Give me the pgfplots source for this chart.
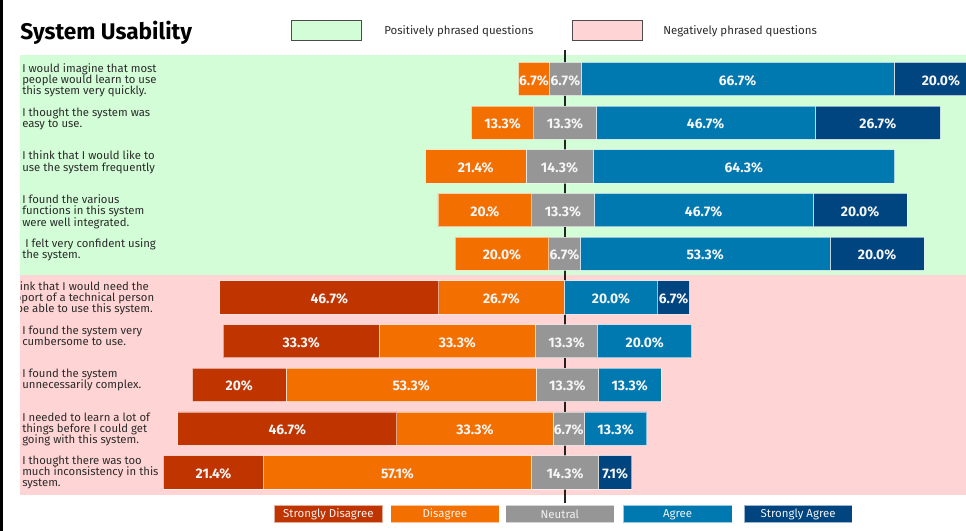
\documentclass[border=0pt]{standalone}
\usepackage{fontspec}
\setmainfont{Fira Sans}
\usepackage{pgfplots}
\usepackage{pgfplotstable}
\pgfplotsset{compat=1.18}

\definecolor{cSD}{HTML}{C03400}
\definecolor{cD}{HTML}{F36F00}
\definecolor{cN}{HTML}{969696}
\definecolor{cA}{HTML}{0079B1}
\definecolor{cSA}{HTML}{004580}
\definecolor{bgG}{HTML}{D3FDD7}
\definecolor{bgP}{HTML}{FFD4D4}
\definecolor{txt}{HTML}{2B2B2B}

% row: 0 = top question; sh = small sideways shift of the bar's centre
\pgfplotstableread{
row SD   D    N    A    SA   sh    SDl       Dl        Nl        Al        SAl
0   0    6.7  6.7  66.7 20.0 0.2   {}        6.7\%     6.7\%     66.7\%    20.0\%
1   0    13.3 13.3 46.7 26.7 0.1   {}        13.3\%    13.3\%    46.7\%    26.7\%
2   0    21.4 14.3 64.3 0    -1.08 {}        21.4\%    14.3\%    64.3\%    {}
3   0    20   13.3 46.7 20.0 -0.33 {}        20.\%     13.3\%    46.7\%    20.0\%
4   0    20.0 6.7  53.3 20.0 0     {}        20.0\%    6.7\%     53.3\%    20.0\%
5   46.7 26.7 0    20.0 6.7  -0.1  46.7\%    26.7\%    {}        20.0\%    6.7\%
6   33.3 33.3 13.3 20.0 0    0.45  33.3\%    33.3\%    13.3\%    20.0\%    {}
7   20   53.3 13.3 13.3 0    0.6   20\%      53.3\%    13.3\%    13.3\%    {}
8   46.7 33.3 6.7  13.3 0    0.9   46.7\%    33.3\%    6.7\%     13.3\%    {}
9   21.4 57.1 14.3 0    7.1  0.1   21.4\%    57.1\%    14.3\%    {}        7.1\%
}\data

% the neutral centre of every bar sits at x = 100 (axis shifted so all stacks stay positive)
\pgfplotsset{
  likert/.style={
    at={(15pt,-41.25pt)}, anchor=north west,
    x=3.5175pt, y=32.775pt, y dir=reverse,
    xmin=-16.1, xmax=185.6, ymin=-0.549, ymax=9.52,
    hide axis,
  },
  seg/.style={fill=#1, draw=white, draw opacity=0.55, line width=0.6pt},
  lab/.style={only marks, mark=none, nodes near coords, point meta=explicit symbolic,
    every node near coord/.style={anchor=center, inner sep=0pt, yshift=-1pt,
      font=\bfseries\fontsize{10.4}{12}\selectfont, text=white!96!black}},
}

\begin{document}
\begin{tikzpicture}[x=0.75pt, y=-0.75pt]
\useasboundingbox (0,0) rectangle (966,531);
% backgrounds
\fill[bgG] (20,55) rectangle (966,275);
\fill[bgP] (20,275) rectangle (966,495);
% centre line
\draw[black, opacity=0.85, line width=1.5pt] (564.5,50) -- (564.5,503);

% bars
\begin{axis}[likert, xbar stacked, bar width=25pt]
\addplot[draw=none, fill=none] table[x expr={100+\thisrow{sh}-(\thisrow{SD}+\thisrow{D}+0.5*\thisrow{N})}, y=row]{\data};
\addplot[seg=cSD] table[x=SD, y=row]{\data};
\addplot[seg=cD]  table[x=D,  y=row]{\data};
\addplot[seg=cN]  table[x=N,  y=row]{\data};
\addplot[seg=cA]  table[x=A,  y=row]{\data};
\addplot[seg=cSA] table[x=SA, y=row]{\data};
\end{axis}

% value labels
\begin{axis}[likert, clip=false]
\addplot[lab] table[x expr={100+\thisrow{sh}-(\thisrow{D}+0.5*\thisrow{N})-0.5*\thisrow{SD}}, y=row, meta=SDl]{\data};
\addplot[lab] table[x expr={100+\thisrow{sh}-0.5*\thisrow{N}-0.5*\thisrow{D}}, y=row, meta=Dl]{\data};
\addplot[lab] table[x expr={100+\thisrow{sh}}, y=row, meta=Nl]{\data};
\addplot[lab] table[x expr={100+\thisrow{sh}+0.5*\thisrow{N}+0.5*\thisrow{A}}, y=row, meta=Al]{\data};
\addplot[lab] table[x expr={100+\thisrow{sh}+0.5*\thisrow{N}+\thisrow{A}+0.5*\thisrow{SA}}, y=row, meta=SAl]{\data};
\end{axis}

% question labels
\begin{scope}
\clip (20,50) rectangle (966,500);
\begin{scope}[every node/.style={anchor=base west, inner sep=0pt, text=txt, font=\fontsize{8.5pt}{10pt}\selectfont}]
\node at (22,72.5) {I would imagine that most};
\node at (22,83.7) {people would learn to use};
\node at (22,94.9) {this system very quickly.};
\node at (22,116.2) {I thought the system was};
\node at (22,127.4) {easy to use.};
\node at (22,159.9) {I think that I would like to};
\node at (22,171.1) {use the system frequently};
\node at (22,203.6) {I found the various};
\node at (22,214.8) {functions in this system};
\node at (22,226.0) {were well integrated.};
\node at (25,247.3) {I felt very confident using};
\node at (22,258.5) {the system.};
\node at (2.5,290.5) {I think that I would need the};
\node at (2.5,301.7) {support of a technical person};
\node at (2.5,312.9) {to be able to use this system.};
\node at (22,334.2) {I found the system very};
\node at (22,345.4) {cumbersome to use.};
\node at (22,377.4) {I found the system};
\node at (22,388.6) {unnecessarily complex.};
\node at (22,421.1) {I needed to learn a lot of};
\node at (22,432.3) {things before I could get};
\node at (22,443.5) {going with this system.};
\node at (22,464.3) {I thought there was too};
\node at (22,475.5) {much inconsistency in this};
\node at (22,486.7) {system.};
\end{scope}
\end{scope}

% title
\node[anchor=base west, inner sep=0pt, text=black, font=\bfseries\fontsize{17}{20}\selectfont] at (20,39.5) {System Usability};

% top legend
\draw[fill=bgG, draw=black!70, line width=0.75pt] (291.7,21) rectangle (361,40.7);
\node[anchor=base west, inner sep=0pt, text=txt, font=\fontsize{8.6pt}{10pt}\selectfont] at (384,35) {Positively phrased questions};
\draw[fill=bgP, draw=black!70, line width=0.75pt] (572,21) rectangle (642,40.7);
\node[anchor=base west, inner sep=0pt, text=txt, font=\fontsize{8.6pt}{10pt}\selectfont] at (663,35) {Negatively phrased questions};

% bottom legend
\begin{scope}[every node/.style={inner sep=0pt, text=white!95!black, font=\fontsize{8.6pt}{10pt}\selectfont}]
\filldraw[fill=cSD, draw=white, draw opacity=0.6, line width=0.6pt] (274,505) rectangle (382.7,522.5);
\node at (328.35,514.5) {Strongly Disagree};
\filldraw[fill=cD, draw=white, draw opacity=0.6, line width=0.6pt] (390.7,505) rectangle (499,522.5);
\node at (444.85,514.5) {Disagree};
\filldraw[fill=cN, draw=white, draw opacity=0.6, line width=0.6pt] (505.7,505) rectangle (614,522.5);
\node at (559.85,514.5) {Neutral};
\filldraw[fill=cA, draw=white, draw opacity=0.6, line width=0.6pt] (623.3,505) rectangle (732,522.5);
\node at (677.65,514.5) {Agree};
\filldraw[fill=cSA, draw=white, draw opacity=0.6, line width=0.6pt] (744,505) rectangle (852.3,522.5);
\node at (798.15,514.5) {Strongly Agree};
\end{scope}

% left edge strip
\fill[black] (0,0) rectangle (3,531);
\end{tikzpicture}
\end{document}
